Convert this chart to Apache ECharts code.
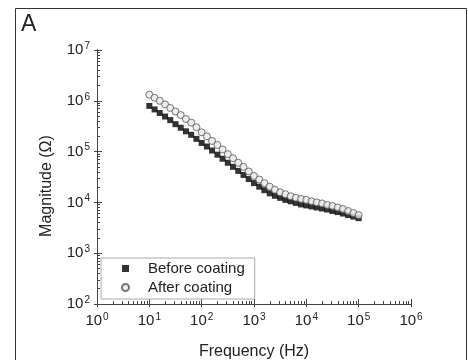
<!DOCTYPE html>
<html><head><meta charset="utf-8">
<script src="https://cdn.jsdelivr.net/npm/echarts@6/dist/echarts.min.js"></script>
<style>html,body{margin:0;padding:0;background:#fff}#c{width:468px;height:360px}</style>
</head><body><div id="c"></div>
<script>
const frequency = [10,12.6,15.8,20,25.1,31.6,39.8,50.1,63.1,79.4,
 100,126,158,200,251,316,398,501,631,794,
 1000,1260,1580,2000,2510,3160,3980,5010,6310,7940,
 10000,12600,15800,20000,25100,31600,39800,50100,63100,79400,100000];
const beforeCoating = [794000,676000,575000,490000,417000,347000,295000,251000,214000,178000,
 148000,126000,105000,87100,72400,60300,50100,41700,34700,28800,
 24000,20400,17400,15100,13500,12300,11200,10500,9770,9120,
 8710,8320,7940,7590,7240,6760,6460,6030,5620,5250,4900];
const afterCoating = [1318000,1148000,1000000,851000,724000,617000,525000,437000,372000,302000,
 240000,200000,162000,135000,110000,89100,74100,60300,50100,40700,
 33100,28200,24000,20400,17800,15800,14500,13200,12300,11700,
 11200,10500,10000,9550,8910,8510,7940,7410,6760,6170,5620];
const xDecades = [1,10,100,1000,10000,100000,1000000];
const yDecades = [100,1000,10000,100000,1000000,10000000];
const seriesNames = ['Before coating','After coating'];

function minors(decs){const out=[];for(let i=0;i<decs.length-1;i++){for(let k=2;k<=9;k++)out.push(decs[i]*k);}return out;}
const axisColor='#444';
const FF='Liberation Sans';
const fmt = v => '{b|10}{s|' + Math.round(Math.log10(v)) + '}';
const rich = {b:{fontSize:15,lineHeight:18,verticalAlign:'middle',fontFamily:FF,color:'#222'},
              s:{fontSize:10,lineHeight:10,verticalAlign:'top',fontFamily:FF,color:'#222',padding:[0,0,0,1]}};

function mkX(extra){return Object.assign({type:'log',logBase:10,min:1,max:1e6,gridIndex:0,position:'bottom',
  axisLine:{show:true,lineStyle:{color:axisColor,width:1}},splitLine:{show:false},minorTick:{show:false}},extra);}
function mkY(extra){return Object.assign({type:'log',logBase:10,min:100,max:1e7,gridIndex:0,position:'left',
  axisLine:{show:true,lineStyle:{color:axisColor,width:1}},splitLine:{show:false},minorTick:{show:false}},extra);}

const chart = echarts.init(document.getElementById('c'),null,{renderer:'canvas'});
chart.setOption({
  animation:false,
  backgroundColor:'#fff',
  grid:{left:97,top:50,width:314,height:254,containLabel:false,outerBoundsMode:'none'},
  graphic:[
    {type:'rect',shape:{x:15.5,y:8.5,width:451,height:360},style:{fill:'none',stroke:'#333',lineWidth:1},silent:true},
    {type:'text',left:21,top:13,style:{text:'A',fontSize:23,fontFamily:FF,fill:'#222'}}
  ],
  xAxis:[
    mkX({axisTick:{show:true,inside:false,length:3,lineStyle:{color:axisColor},customValues:xDecades},
      axisLabel:{show:true,margin:8,fontSize:15,fontFamily:FF,formatter:fmt,rich:rich,customValues:xDecades},
      name:'Frequency (Hz)',nameLocation:'middle',nameGap:40,nameTextStyle:{fontSize:16,fontFamily:FF,color:'#222'}}),
    mkX({axisTick:{show:true,inside:true,length:5,lineStyle:{color:axisColor},customValues:xDecades},axisLabel:{show:false}}),
    mkX({axisTick:{show:true,inside:true,length:3,lineStyle:{color:axisColor},customValues:minors(xDecades)},axisLabel:{show:false}})
  ],
  yAxis:[
    mkY({axisTick:{show:true,inside:false,length:3,lineStyle:{color:axisColor},customValues:yDecades},
      axisLabel:{show:true,margin:7,fontSize:15,fontFamily:FF,formatter:fmt,rich:rich,customValues:yDecades},
      name:'Magnitude (\u03a9)',nameLocation:'middle',nameGap:42,
      nameTextStyle:{fontSize:16,fontFamily:FF,color:'#222',padding:[0,18,0,0]}}),
    mkY({axisTick:{show:true,inside:true,length:5,lineStyle:{color:axisColor},customValues:yDecades},axisLabel:{show:false}}),
    mkY({axisTick:{show:true,inside:true,length:3,lineStyle:{color:axisColor},customValues:minors(yDecades)},axisLabel:{show:false}})
  ],
  legend:{
    orient:'vertical',left:101,top:258,
    backgroundColor:'#fff',
    borderColor:'#aaa',borderWidth:1,borderRadius:0,
    padding:[3,10,4,20],itemGap:4,itemWidth:7,itemHeight:7,
    textStyle:{fontSize:15,fontFamily:FF,color:'#222',padding:[0,0,0,14]},
    data:seriesNames
  },
  series:[
    {name:seriesNames[0],type:'scatter',xAxisIndex:0,yAxisIndex:0,symbol:'rect',symbolSize:6,
      itemStyle:{color:'#000'},data:frequency.map((f,i)=>[f,beforeCoating[i]]),z:2},
    {name:seriesNames[1],type:'scatter',xAxisIndex:0,yAxisIndex:0,symbol:'circle',symbolSize:7,
      itemStyle:{color:'#e8e8e8',borderColor:'#555',borderWidth:1},data:frequency.map((f,i)=>[f,afterCoating[i]]),z:3}
  ]
});
</script></body></html>
